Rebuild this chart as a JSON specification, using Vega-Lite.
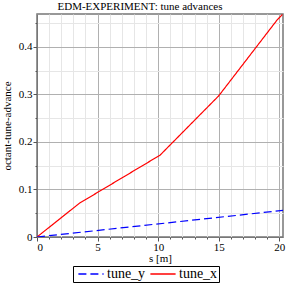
{
  "$schema": "https://vega.github.io/schema/vega-lite/v6.json",
  "width": 246,
  "height": 223,
  "autosize": {"type": "none"},
  "padding": {"left": 37, "top": 14, "right": 14, "bottom": 51},
  "title": {"text": "EDM-EXPERIMENT: tune advances", "font": "Liberation Serif", "fontSize": 11, "fontWeight": "normal", "anchor": "middle", "dx": -20, "offset": 2},
  "config": {
    "font": "Liberation Serif",
    "view": {"stroke": "#777777", "strokeWidth": 1.5},
    "axis": {"labelFont": "Liberation Serif", "titleFont": "Liberation Serif", "labelFontSize": 11, "titleFontSize": 11, "titleFontWeight": "normal", "labelColor": "#000", "titleColor": "#000", "domainColor": "#777777", "tickColor": "#555555"}
  },
  "data": {"values": [
    {"s": 0, "v": 0, "series": "tune_x"},
    {"s": 3.5, "v": 0.071, "series": "tune_x"},
    {"s": 10.15, "v": 0.172, "series": "tune_x"},
    {"s": 15.0, "v": 0.297, "series": "tune_x"},
    {"s": 19.8, "v": 0.456, "series": "tune_x"},
    {"s": 20.25, "v": 0.468, "series": "tune_x"},
    {"s": 0, "v": 0, "series": "tune_y"},
    {"s": 20.3, "v": 0.056, "series": "tune_y"}
  ]},
  "mark": {"type": "line", "strokeWidth": 1.2, "clip": true},
  "encoding": {
    "x": {"field": "s", "type": "quantitative", "title": "s [m]",
      "scale": {"domain": [0, 20.3], "nice": false, "zero": false},
      "axis": {"values": [0,1,2,3,4,5,6,7,8,9,10,11,12,13,14,15,16,17,18,19,20],
        "labelExpr": "datum.value % 5 === 0 ? datum.label : ''",
        "labelPadding": 0, "titlePadding": 0,
        "gridColor": {"condition": {"test": "datum.value % 5 === 0", "value": "#b0b0b0"}, "value": "#e6e6e6"},
        "tickSize": {"condition": {"test": "datum.value % 5 === 0", "value": 4}, "value": 2}}},
    "y": {"field": "v", "type": "quantitative", "title": "octant-tune-advance",
      "scale": {"domain": [0, 0.469], "nice": false},
      "axis": {"values": [0,0.05,0.1,0.15,0.2,0.25,0.3,0.35,0.4,0.45], "format": ".2~f",
        "labelExpr": "abs(datum.value*10 - round(datum.value*10)) < 1e-6 ? datum.label : ''",
        "labelPadding": 1, "titlePadding": 6,
        "gridColor": {"condition": {"test": "abs(datum.value*10 - round(datum.value*10)) < 1e-6", "value": "#b0b0b0"}, "value": "#e6e6e6"},
        "tickSize": {"condition": {"test": "abs(datum.value*10 - round(datum.value*10)) < 1e-6", "value": 4}, "value": 2}}},
    "color": {"field": "series", "type": "nominal",
      "scale": {"domain": ["tune_y", "tune_x"], "range": ["#0000ff", "#ff0000"]},
      "legend": {"title": null, "orient": "none", "direction": "horizontal", "legendX": 36, "legendY": 252,
        "symbolType": "M-2.1,0H2.1", "symbolSize": 144, "symbolStrokeWidth": 1.5, "symbolOffset": 10,
        "labelFont": "Liberation Serif", "labelFontSize": 14, "labelColor": "#000",
        "strokeColor": "#000", "padding": 1, "columnPadding": -18, "labelOffset": 9}},
    "strokeDash": {"field": "series", "type": "nominal",
      "scale": {"domain": ["tune_y", "tune_x"], "range": [[8, 4], [1, 0]]},
      "legend": null}
  }
}
